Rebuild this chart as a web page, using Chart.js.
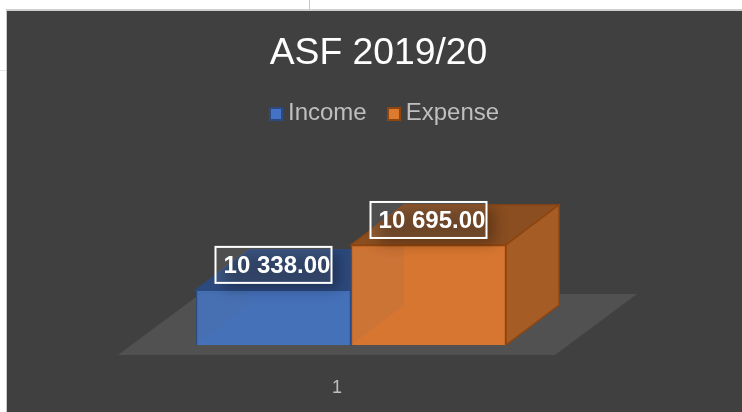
<!DOCTYPE html>
<html>
<head>
<meta charset="utf-8">
<style>
html, body { margin: 0; width: 742px; height: 412px; overflow: hidden; background: #fff; }
#panel { position: absolute; left: 6px; top: 9px; width: 736px; height: 403px; background: #404040; border-top: 2px solid #d0d0d0; border-left: 1px solid #c8c8c8; box-sizing: border-box; }
#rule1 { position: absolute; left: 309px; top: 0; width: 1px; height: 9px; background: #c8c8c8; }
#rule2 { position: absolute; left: 0; top: 70px; width: 6px; height: 1px; background: #dde3ea; }
#legend { position: absolute; left: 269px; top: 97px; font: 24px "Liberation Sans", Arial, sans-serif; color: #bfbfbf; white-space: nowrap; line-height: 30px; }
#legend span.item { margin-right: 20px; }
#legend i { display: inline-block; width: 10px; height: 10px; border: 2px solid; margin-right: 5px; vertical-align: -1px; }
canvas { position: absolute; left: 0; top: 0; }
</style>
</head>
<body>
<div id="rule1"></div>
<div id="rule2"></div>
<div id="panel"></div>
<canvas id="asfChart" width="742" height="412"></canvas>
<div id="legend"></div>
<script src="https://cdn.jsdelivr.net/npm/chart.js@4"></script>
<script>
const categories = ['1'];
const seriesNames = ['Income', 'Expense'];
const incomeValues = [10338];
const expenseValues = [10695];
const frontColors = ['rgba(70,114,186,0.93)', 'rgba(216,118,48,0.93)'];
const legendColors = ['#4472c4', '#dc7a30'];
const edgeColors = ['#2b4a80', '#8e4510'];
const topColors = ['#2d4a7e', '#8a4e20'];
const sideColors = ['#2d4a7e', '#a55c25'];
const backColors = ['#3d66ad', '#c96e2e'];

const depthX = 53;
const depthY = -40;

function quad(ctx, pts, fill, stroke) {
    ctx.beginPath();
    ctx.moveTo(pts[0][0], pts[0][1]);
    for (let i = 1; i < pts.length; i++) ctx.lineTo(pts[i][0], pts[i][1]);
    ctx.closePath();
    if (fill) { ctx.fillStyle = fill; ctx.fill(); }
    if (stroke) { ctx.strokeStyle = stroke; ctx.lineWidth = 1.5; ctx.stroke(); }
}

// floor and the depth faces go under the library's own bars
const boxFaces = {
    id: 'boxFaces',
    beforeDatasetsDraw(chart) {
        const ctx = chart.ctx;
        const a = chart.chartArea;
        ctx.save();
        quad(ctx, [[a.left - 78, a.bottom + 10], [a.right + 49, a.bottom + 10], [a.right + 131, a.bottom - 51], [a.left + 4, a.bottom - 51]], '#525151');
        [0, 1].forEach(i => {
            const b = chart.getDatasetMeta(i).data[0];
            const l = b.x - b.width / 2, r = b.x + b.width / 2, t = b.y, f = a.bottom;
            quad(ctx, [[l + depthX, t + depthY], [r + depthX, t + depthY], [r + depthX, f + depthY], [l + depthX, f + depthY]], backColors[i]);
            quad(ctx, [[l, f], [r, f], [r + depthX, f + depthY], [l + depthX, f + depthY]], backColors[i]);
            quad(ctx, [[l, t], [r, t], [r + depthX, t + depthY], [l + depthX, t + depthY]], topColors[i], edgeColors[i]);
            quad(ctx, [[r, t], [r + depthX, t + depthY], [r + depthX, f + depthY], [r, f]], sideColors[i], edgeColors[i]);
        });
        ctx.restore();
    },
    afterDatasetsDraw(chart) {
        const ctx = chart.ctx;
        [0, 1].forEach(i => {
            const b = chart.getDatasetMeta(i).data[0];
            const value = i === 0 ? incomeValues[0] : expenseValues[0];
            const s = String(Math.floor(value / 1000)) + ' ' + String(value % 1000).padStart(3, '0') + '.00';
            const w = 116, h = 36;
            const x = b.x - w / 2, y = b.y - 43;
            const l = b.x - b.width / 2, r = b.x + b.width / 2;

            // soft shadow of the label, only on the box itself
            ctx.save();
            ctx.beginPath();
            ctx.moveTo(l, chart.chartArea.bottom);
            ctx.lineTo(l, b.y);
            ctx.lineTo(l + depthX, b.y + depthY);
            ctx.lineTo(r + depthX, b.y + depthY);
            ctx.lineTo(r, b.y);
            ctx.lineTo(r, chart.chartArea.bottom);
            ctx.closePath();
            ctx.clip();
            ctx.shadowColor = 'rgba(0,0,0,0.3)';
            ctx.shadowBlur = 14;
            ctx.shadowOffsetX = 1000;
            ctx.fillStyle = '#000';
            ctx.fillRect(x + 8 - 1000, y + 6, w, h);
            ctx.restore();

            ctx.save();
            ctx.fillStyle = 'rgba(255,255,255,0.08)';
            ctx.fillRect(x, y, w, h);
            ctx.strokeStyle = '#fff';
            ctx.lineWidth = 2;
            ctx.strokeRect(x, y, w, h);
            ctx.fillStyle = '#fff';
            ctx.font = 'bold 24px "Liberation Sans", Arial, sans-serif';
            ctx.textAlign = 'center';
            ctx.textBaseline = 'middle';
            ctx.fillText(s, b.x + 3.5, b.y - 24);
            ctx.restore();
        });
    }
};

document.getElementById('legend').innerHTML = seriesNames.map((name, i) =>
    `<span class="item"><i style="background:${legendColors[i]};border-color:${edgeColors[i]}"></i>${name}</span>`
).join('');

new Chart(document.getElementById('asfChart'), {
    type: 'bar',
    plugins: [boxFaces],
    data: {
        labels: categories,
        datasets: [
            { label: seriesNames[0], data: incomeValues, backgroundColor: frontColors[0], borderColor: edgeColors[0], borderWidth: 1.5 },
            { label: seriesNames[1], data: expenseValues, backgroundColor: frontColors[1], borderColor: edgeColors[1], borderWidth: 1.5 }
        ]
    },
    options: {
        responsive: false,
        animation: false,
        layout: { padding: { left: 15, right: 0, top: 0, bottom: 0 } },
        datasets: { bar: { categoryPercentage: 1, barPercentage: 1 } },
        plugins: {
            legend: { display: false },
            tooltip: { enabled: false },
            title: {
                display: true,
                text: 'ASF 2019/20',
                color: '#ffffff',
                font: { family: '"Liberation Sans", Arial, sans-serif', size: 37.3, weight: 'normal' },
                padding: { top: 31, bottom: 156 }
            }
        },
        scales: {
            x: {
                grid: { display: false },
                border: { display: false },
                ticks: { color: '#bfbfbf', font: { family: '"Liberation Sans", Arial, sans-serif', size: 18 }, padding: 24, labelOffset: -14, maxRotation: 0 },
                afterFit(axis) { axis.height = 67; }
            },
            y: {
                position: 'left',
                min: 9900,
                max: 10800,
                grid: { display: false },
                border: { display: false },
                ticks: { display: false },
                afterFit(axis) { axis.width = 181; }
            },
            spacer: {
                position: 'right',
                grid: { display: false },
                border: { display: false },
                ticks: { display: false },
                afterFit(axis) { axis.width = 236; }
            }
        }
    }
});
</script>
</body>
</html>
